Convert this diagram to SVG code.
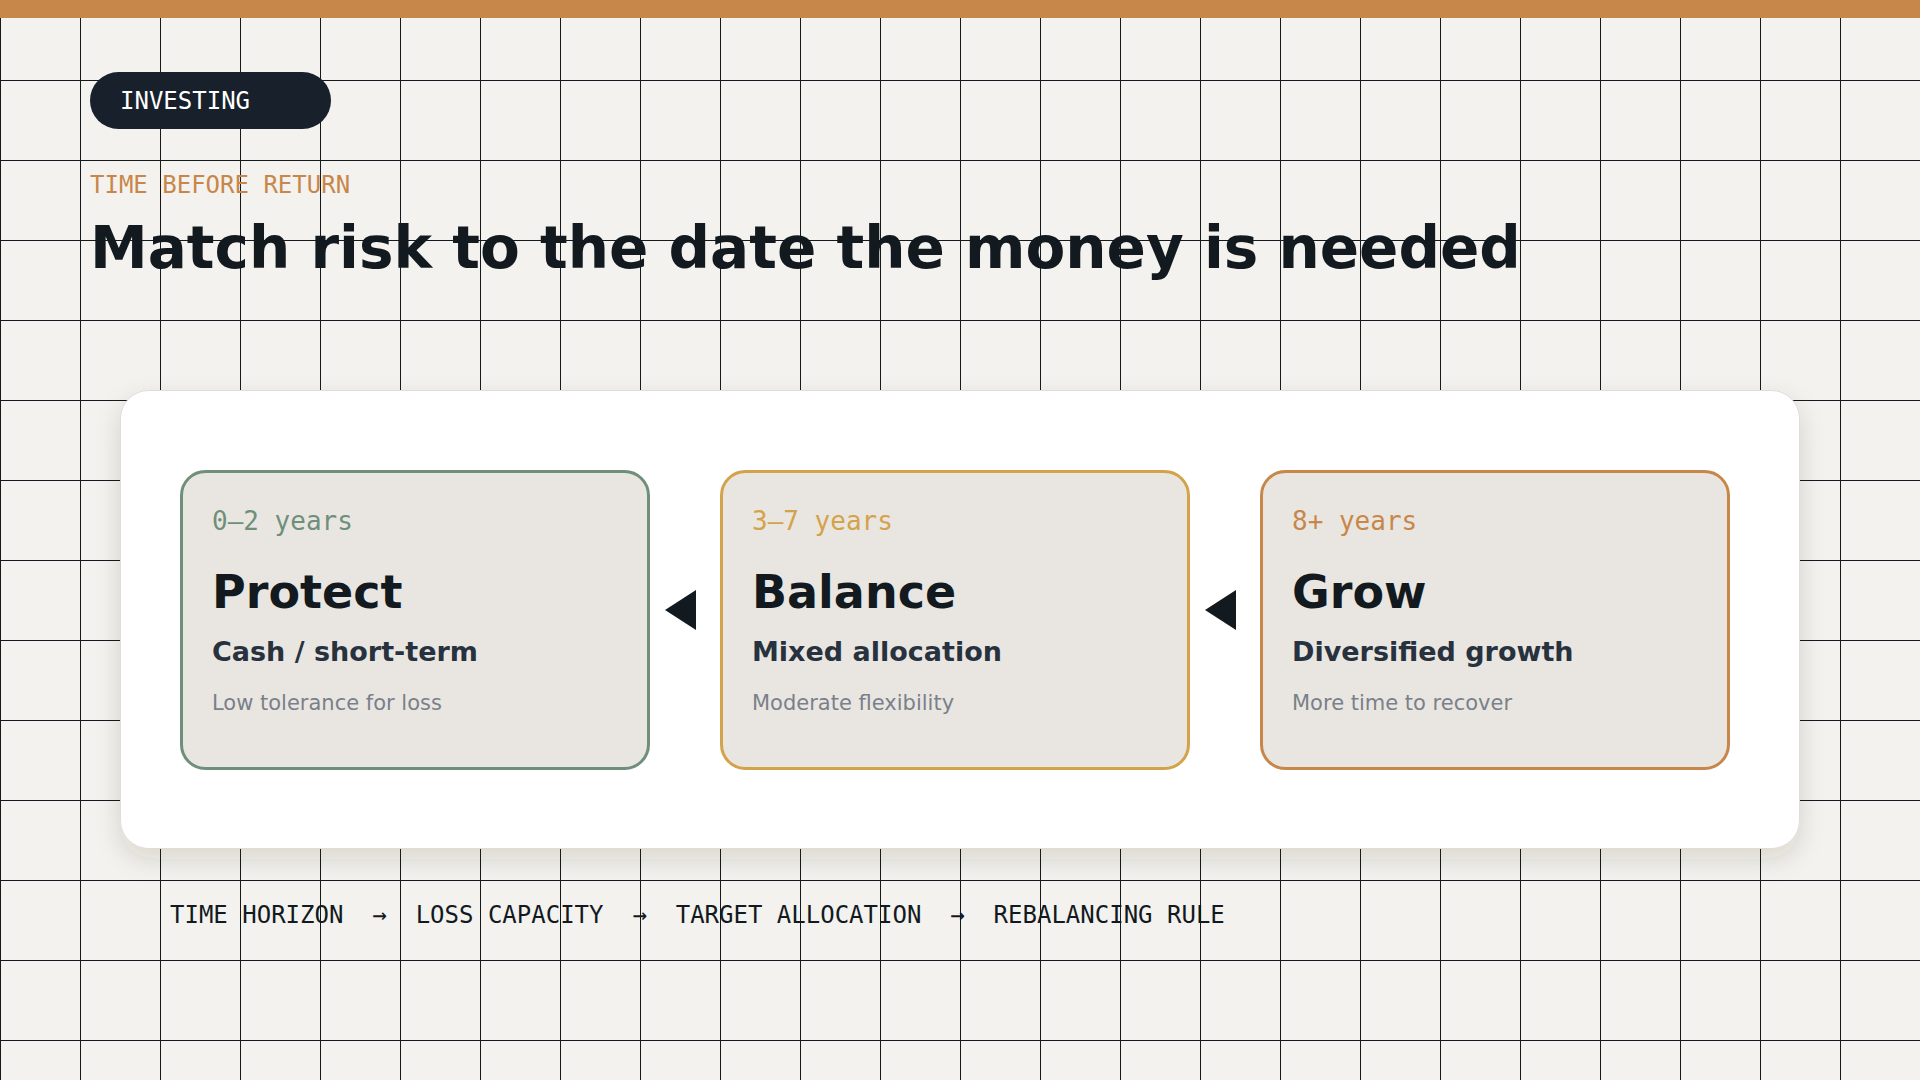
<svg xmlns="http://www.w3.org/2000/svg" width="1920" height="1080" viewBox="0 0 1920 1080">
  <defs>
    <pattern id="grid" x="0" y="0" width="80" height="80" patternUnits="userSpaceOnUse">
      <rect x="0" y="0" width="1" height="80" fill="#15191e"/>
      <rect x="0" y="0" width="80" height="1" fill="#15191e"/>
    </pattern>
    <filter id="shadow" x="-10%" y="-20%" width="120%" height="150%">
      <feDropShadow dx="0" dy="10" stdDeviation="12" flood-color="#2a2116" flood-opacity="0.14"/>
    </filter>
  </defs>
  <style>
    .mono { font-family: "DejaVu Sans Mono", "Liberation Mono", monospace; }
    .sans { font-family: "DejaVu Sans", "Liberation Sans", sans-serif; }
    .card { fill: #e9e6e1; stroke-width: 3; }
    .years { font-family: "DejaVu Sans Mono", "Liberation Mono", monospace; font-size: 26px; }
    .head { font-family: "DejaVu Sans", "Liberation Sans", sans-serif; font-weight: bold; font-size: 46px; fill: #121a1f; }
    .sub { font-family: "DejaVu Sans", "Liberation Sans", sans-serif; font-weight: bold; font-size: 27px; fill: #28323e; }
    .note { font-family: "DejaVu Sans", "Liberation Sans", sans-serif; font-size: 21px; fill: #7a808a; }
    .arrowhead { fill: #121a1f; }
  </style>

  <rect x="0" y="0" width="1920" height="1080" fill="#f4f2ee"/>
  <rect x="0" y="0" width="1920" height="1080" fill="url(#grid)"/>
  <rect x="0" y="0" width="1920" height="18" fill="#c8874a"/>

  <g id="tag">
    <rect x="90" y="72" width="241" height="57" rx="28.5" fill="#18202b"/>
    <text x="120" y="109" class="mono" font-size="24" fill="#ffffff">INVESTING</text>
  </g>

  <g id="header">
    <text x="90" y="193" class="mono" font-size="24" fill="#c8874a">TIME BEFORE RETURN</text>
    <text x="90" y="268" class="sans" font-size="58" font-weight="bold" fill="#121a1f">Match risk to the date the money is needed</text>
  </g>

  <g id="panel">
    <rect x="120.5" y="390.5" width="1679" height="458" rx="28" fill="#ffffff" stroke="#e0dbd3" stroke-width="1" filter="url(#shadow)"/>
  </g>

  <g id="node-protect">
    <rect class="card" x="181.5" y="471.5" width="467" height="297" rx="24" stroke="#6f8f7a"/>
    <text x="212" y="530" class="years" fill="#6f8f7a">0–2 years</text>
    <text x="212" y="608" class="head">Protect</text>
    <text x="212" y="661" class="sub">Cash / short-term</text>
    <text x="212" y="710" class="note">Low tolerance for loss</text>
  </g>

  <g id="node-balance">
    <rect class="card" x="721.5" y="471.5" width="467" height="297" rx="24" stroke="#d4a24a"/>
    <text x="752" y="530" class="years" fill="#d4a24a">3–7 years</text>
    <text x="752" y="608" class="head">Balance</text>
    <text x="752" y="661" class="sub">Mixed allocation</text>
    <text x="752" y="710" class="note">Moderate flexibility</text>
  </g>

  <g id="node-grow">
    <rect class="card" x="1261.5" y="471.5" width="467" height="297" rx="24" stroke="#c8874a"/>
    <text x="1292" y="530" class="years" fill="#c8874a">8+ years</text>
    <text x="1292" y="608" class="head">Grow</text>
    <text x="1292" y="661" class="sub">Diversified growth</text>
    <text x="1292" y="710" class="note">More time to recover</text>
  </g>

  <g id="connectors">
    <path class="arrowhead" d="M665 610 L696 590 L696 630 Z"/>
    <path class="arrowhead" d="M1205 610 L1236 590 L1236 630 Z"/>
  </g>

  <g id="flow">
    <text x="170" y="923" class="mono" font-size="24" fill="#121a1f" xml:space="preserve">TIME HORIZON  →  LOSS CAPACITY  →  TARGET ALLOCATION  →  REBALANCING RULE</text>
  </g>
</svg>
